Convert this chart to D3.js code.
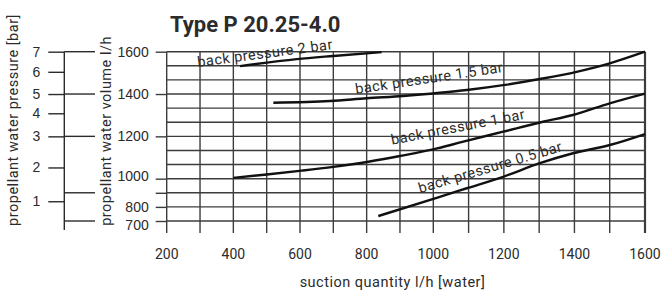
<!DOCTYPE html>
<html>
<head>
<meta charset="utf-8">
<script src="https://cdn.jsdelivr.net/npm/d3@7"></script>
<style>
  body { margin: 0; background: #fff; }
  svg { display: block; font-family: Roboto, 'DejaVu Sans', sans-serif; }
  .grid line { stroke: #3c3c3c; stroke-width: 1.4; }
  .curve { fill: none; stroke: #111; stroke-width: 2.4; }
  text { fill: #2b2b2b; }
  .lbl { font-size: 14.5px; letter-spacing: 0.5px; }
</style>
</head>
<body>
<div id="chart"></div>
<script>
// suction quantity (x) vs propellant water volume (y), one line per back pressure
const bp2 = [[420, 1532], [590, 1565], [700, 1580], [845, 1598]];
const bp15 = [[520, 1359], [690, 1367], [800, 1380], [910, 1391], [1019, 1406], [1095, 1419],
  [1203, 1443], [1302, 1471], [1406, 1505], [1500, 1545], [1600, 1600]];
const bp1 = [[400, 1004], [500, 1020], [605, 1038], [700, 1056], [805, 1080], [900, 1107],
  [1014, 1144], [1085, 1175], [1198, 1222], [1311, 1269], [1396, 1301], [1500, 1356], [1600, 1402]];
const bp05 = [[835, 735], [1014, 868], [1095, 932], [1198, 1009], [1302, 1073], [1396, 1120],
  [1500, 1159], [1600, 1211]];

const curveLabels = ['back pressure 2 bar', 'back pressure 1.5 bar', 'back pressure 1 bar', 'back pressure 0.5 bar'];
// where each label starts (x, volume) and its slant
const labelAnchors = [[294, 1528], [768, 1400], [876, 1160], [960, 897]];
const labelAngles = [-7.5, -8.5, -11, -16.5];

const xTicks = d3.range(200, 1601, 100);
const xLabels = [200, 400, 600, 800, 1000, 1200, 1400, 1600];
const volTicks = [700, 800, 900, 1000, 1200, 1400, 1600];
const connectorVols = [1600, 1400, 1200, 900, 700];
const pressureTicks = [1, 2, 3, 4, 5, 6, 7];
const pressureVols = [840, 1053, 1200, 1309, 1400, 1505, 1600]; // volume level of each pressure mark

const width = 666, height = 291;
const plotTop = 51.7, plotBottom = 221;

const svg = d3.select('#chart').append('svg')
  .attr('width', width)
  .attr('height', height);

// the grid has 12 even rows, the volume labels sit on rows 0,3,6,9,10,11,12
const row = d3.scaleLinear().domain([0, 12]).range([plotTop, plotBottom]);
const x = d3.scaleLinear().domain([200, 1000, 1600]).range([166.7, 433.3, 645]);
const y = d3.scaleLinear().domain([700, 1000, 1600]).range([row(12), row(9), row(0)]);
const p = d3.scaleLinear().domain(pressureTicks).range(pressureVols.map(y));

// grid
const grid = svg.append('g').attr('class', 'grid');
grid.selectAll('.h').data(d3.range(13)).join('line')
  .attr('class', 'h')
  .attr('x1', x(200)).attr('x2', x(1600))
  .attr('y1', (d) => row(d)).attr('y2', (d) => row(d));
grid.selectAll('.v').data(xTicks).join('line')
  .attr('class', 'v')
  .attr('x1', (d) => x(d)).attr('x2', (d) => x(d))
  .attr('y1', plotTop).attr('y2', 233)
  .style('stroke-width', (d) => (d === 1600 ? 2.2 : 1.4));

// volume axis
const volAxis = svg.append('g')
  .attr('transform', `translate(${x(200)},0)`)
  .call(d3.axisLeft(y).tickValues(volTicks).tickSize(11).tickPadding(7)
    .tickFormat((d) => (d === 900 ? '' : d)));
volAxis.select('.domain').remove();
volAxis.selectAll('line').attr('stroke', '#3c3c3c').attr('stroke-width', 1.4);
volAxis.selectAll('text').style('font-size', '14px').attr('fill', '#2b2b2b')
  // the printed 1000 sits a bit high and 700 a bit low, clear of 800
  .attr('dy', (d) => (d === 1000 ? '0.1em' : d === 700 ? '0.62em' : '0.32em'));

// pressure axis
const px = 64.3;
const pAxis = svg.append('g')
  .attr('transform', `translate(${px},0)`)
  .call(d3.axisLeft(p).tickValues(pressureTicks).tickSize(16).tickPadding(8)
    .tickFormat(d3.format('d')));
pAxis.select('.domain').remove();
pAxis.selectAll('line').attr('stroke', '#2b2b2b').attr('stroke-width', 1.4);
pAxis.selectAll('text').style('font-size', '14px').attr('fill', '#2b2b2b');
svg.append('line')
  .attr('x1', px).attr('x2', px).attr('y1', plotTop).attr('y2', 230)
  .attr('stroke', '#2b2b2b').attr('stroke-width', 1.4);
svg.append('g').selectAll('line').data(connectorVols).join('line')
  .attr('x1', px).attr('x2', 95)
  .attr('y1', (d) => y(d)).attr('y2', (d) => y(d))
  .attr('stroke', '#2b2b2b').attr('stroke-width', 1.4);

// x labels
svg.append('g').selectAll('text').data(xLabels).join('text')
  .attr('x', (d) => x(d)).attr('y', 259)
  .attr('text-anchor', 'middle')
  .style('font-size', '14px')
  .text((d) => d);

// curves
const line = d3.line()
  .x((d) => x(d[0]))
  .y((d) => y(d[1]))
  .curve(d3.curveMonotoneX);
[bp2, bp15, bp1, bp05].forEach((s) => {
  svg.append('path').datum(s).attr('class', 'curve').attr('d', line);
});

// curve labels
svg.append('g').selectAll('text').data(curveLabels).join('text')
  .attr('class', 'lbl')
  .attr('transform', (d, i) =>
    `translate(${x(labelAnchors[i][0])},${y(labelAnchors[i][1])}) rotate(${labelAngles[i]})`)
  .text((d) => d);

// titles
svg.append('text')
  .attr('x', 170).attr('y', 31.7)
  .style('font-size', '22px').style('font-weight', 'bold')
  .attr('fill', '#1a1a1a')
  .text('Type P 20.25-4.0');

svg.append('text')
  .attr('class', 'lbl')
  .attr('transform', 'translate(17.5,120) rotate(-90)')
  .attr('text-anchor', 'middle')
  .text('propellant water pressure [bar]');

svg.append('text')
  .attr('class', 'lbl')
  .attr('transform', 'translate(111,131) rotate(-90)')
  .attr('text-anchor', 'middle')
  .text('propellant water volume l/h');

svg.append('text')
  .attr('class', 'lbl')
  .attr('x', 392.5).attr('y', 287)
  .attr('text-anchor', 'middle')
  .text('suction quantity l/h [water]');
</script>
</body>
</html>
